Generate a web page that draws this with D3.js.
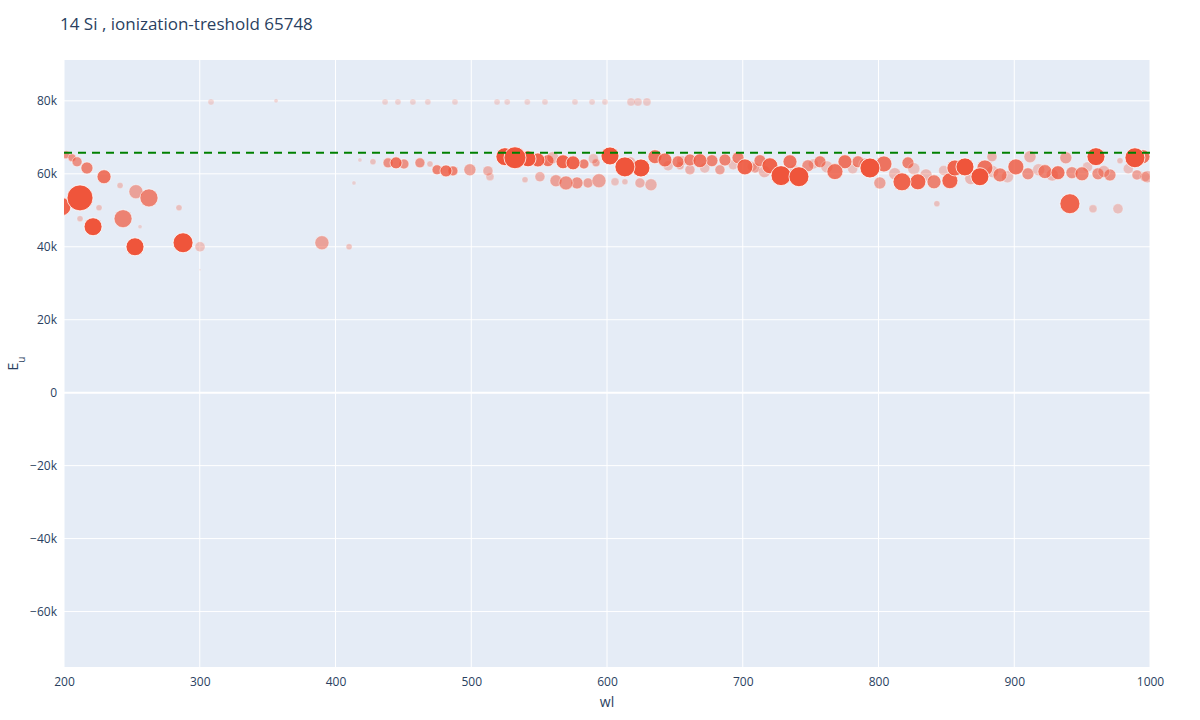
<!DOCTYPE html>
<html>
<head>
<meta charset="utf-8">
<script src="https://cdn.jsdelivr.net/npm/d3@7"></script>
<style>
  body { margin: 0; background: #fff; font-family: "Open Sans", Arial, sans-serif; }
</style>
</head>
<body>
<svg id="chart" width="1200" height="720"></svg>
<script>
// wavelength (nm), upper level energy (cm-1), marker size (px radius), relative strength (opacity)
const wl = [201.5,205.9,209.6,216.9,229.5,211.8,198.5,221.4,252.3,287.7,243.5,253,262.6,241.3,284.7,225.8,211.8,300.2,390,410,308.3,356.2,256,300.2,
  436.5,446,457,468,488,519,526.5,541.3,554.3,576.4,589,598.5,617.7,622.8,629.4,
  427.6,438.7,444.6,450.4,462.2,474.8,481.4,486.5,499,512.3,469.6,413.6,418,
  524.8,532.2,541.8,549.1,556.5,567.6,575,583,591.9,602.2,613.2,625,635.3,642.7,652.3,661.1,668.5,677.3,686.9,696.5,701.6,712.7,720,728.2,741.4,734.8,748,756.9,767.9,775.3,784.9,793.7,804,817.3,829,840.9,852.6,856.3,863.7,874.7,878.4,889.5,901.2,910.1,922.6,932.2,942.5,949.9,961.7,970.5,988.9,994.8,960.2,941,958,976.4,990.4,996.3,911.6,883.6,843,801,821.7,938,977.9,
  550.6,562.4,569.8,577.9,586,594.1,605.9,624.3,632.4,513.8,539.6,613.2,661.1,683.2,709,653.8,
  645,672,693,707,716,738,752,762,781,790,812,826,835,848,868,884,895,918,928,954,966,984,998,560,590,617,655];
const eu = [65200,64400,63300,61600,59200,53400,51000,45500,40000,41100,47700,55100,53400,56800,50700,50700,47700,40000,41100,40000,79700,80000,45500,33700,
  79700,79700,79700,79700,79700,79700,79700,79700,79700,79700,79700,79700,79700,79700,79700,
  63300,63000,63000,62700,63000,61100,60800,60800,61100,60800,62700,57500,63800,
  64700,64400,64100,63800,63600,63300,63000,62700,63000,64900,61900,61600,64700,63800,63300,63800,63600,63600,63800,64400,61900,63600,62200,59500,59200,63300,62200,63300,60600,63300,63300,61600,62700,57800,57800,57800,58100,61600,61900,59200,61600,59700,61900,60000,60600,60300,60300,60000,60000,59700,64400,64700,64700,51800,50400,50400,59700,59200,64700,64700,51800,57500,63000,64400,63600,
  59200,58100,57500,57500,57500,58100,57800,57500,57000,59200,58400,57800,61100,61100,61600,62200,
  62200,61600,62500,62000,60600,61100,62700,61900,61400,62700,60000,61400,59700,60900,58700,60600,59200,61100,59700,61900,60600,61400,59200,64400,64100,63000,63600];
const msize = [4,4,5,6,7,13,9,9,9,10,9,7,9,3,3,3,3,5,7,3,3,2,2,1,
  3,3,3,3,3,3,3,3,3,3,3,3,4,4,4,
  3,5,6,5,5,5,6,5,6,5,3,2,2,
  9,11,8,7,6,7,7,5,4,9,10,9,7,7,6,6,7,6,6,6,8,6,8,10,10,7,6,6,8,7,6,10,8,9,8,7,8,8,9,9,8,7,8,6,7,7,6,7,6,6,10,7,9,10,4,5,5,5,6,5,3,6,6,6,3,
  5,6,7,6,5,7,4,5,6,4,3,3,5,5,5,4,
  5,5,5,5,6,5,5,6,5,6,6,6,6,5,6,6,6,6,6,5,6,5,6,6,5,6,5];
const alpha = [.6,.6,.6,.7,.8,1,.9,1,1,1,.7,.5,.7,.3,.3,.3,.3,.3,.5,.3,.2,.2,.2,.1,
  .2,.2,.2,.2,.2,.2,.2,.2,.2,.2,.2,.2,.25,.25,.25,
  .3,.6,.8,.6,.6,.7,.8,.7,.5,.4,.3,.2,.2,
  1,1,1,.9,.8,.9,.9,.7,.5,1,1,1,.8,.8,.7,.7,.8,.7,.7,.7,.9,.7,.9,1,1,.8,.6,.7,.8,.8,.7,1,.8,.9,.9,.7,.9,.9,1,1,.8,.7,.8,.6,.7,.8,.6,.7,.6,.6,1,.8,1,.9,.3,.3,.5,.4,.4,.4,.3,.5,.7,.5,.3,
  .4,.5,.6,.6,.5,.5,.3,.4,.4,.3,.3,.3,.4,.5,.5,.4,
  .3,.3,.3,.3,.35,.3,.3,.3,.3,.35,.35,.3,.35,.3,.35,.3,.3,.3,.35,.3,.35,.3,.35,.35,.3,.35,.3];
const ionization = 65748;
const xTicks = [200,300,400,500,600,700,800,900,1000];
const yTicks = [-60000,-40000,-20000,0,20000,40000,60000,80000];

const svg = d3.select("#chart");
const m = { l: 64, r: 50, t: 60, b: 53 };
const W = 1200, H = 720;
const x = d3.scaleLinear().domain([200, 1000]).range([m.l, W - m.r]);
const y = d3.scaleLinear().domain([-75200, 91200]).range([H - m.b, m.t]);

svg.append("rect").attr("x", m.l).attr("y", m.t)
  .attr("width", W - m.r - m.l).attr("height", H - m.b - m.t).attr("fill", "#e5ecf6");

svg.append("defs").append("clipPath").attr("id", "clip")
  .append("rect").attr("x", m.l).attr("y", m.t)
  .attr("width", W - m.r - m.l).attr("height", H - m.b - m.t);

const grid = svg.append("g").attr("stroke", "#fff");
grid.selectAll(".gx").data(xTicks).join("line")
  .attr("x1", d => x(d)).attr("x2", d => x(d)).attr("y1", m.t).attr("y2", H - m.b);
grid.selectAll(".gy").data(yTicks).join("line")
  .attr("y1", d => y(d)).attr("y2", d => y(d)).attr("x1", m.l).attr("x2", W - m.r)
  .attr("stroke-width", d => d === 0 ? 2 : 1);

const fmt = d => d === 0 ? "0" : (d < 0 ? "\u2212" : "") + Math.abs(d / 1000) + "k";

const xa = svg.append("g").attr("transform", `translate(0,${H - m.b})`)
  .call(d3.axisBottom(x).tickValues(xTicks).tickFormat(d3.format("d")).tickSize(0).tickPadding(10));
const ya = svg.append("g").attr("transform", `translate(${m.l},0)`)
  .call(d3.axisLeft(y).tickValues(yTicks).tickFormat(fmt).tickSize(0).tickPadding(7));
[xa, ya].forEach(a => {
  a.select(".domain").remove();
  a.selectAll("text").attr("fill", "#2a3f5f").style("font-size", "12px")
    .style("font-family", "\"Open Sans\", Arial, sans-serif");
});

const pts = d3.range(wl.length).sort((a, b) => msize[a] - msize[b]);
svg.append("g").attr("clip-path", "url(#clip)")
  .selectAll("circle").data(pts).join("circle")
  .attr("cx", i => x(wl[i])).attr("cy", i => y(eu[i])).attr("r", i => msize[i])
  .attr("fill", "rgb(239,85,59)").attr("fill-opacity", i => alpha[i])
  .attr("stroke", "#fff").attr("stroke-opacity", i => alpha[i] * 0.8).attr("stroke-width", 1);

svg.append("line").attr("x1", m.l).attr("x2", W - m.r)
  .attr("y1", y(ionization)).attr("y2", y(ionization))
  .attr("stroke", "green").attr("stroke-width", 2).attr("stroke-dasharray", "8,6");

svg.append("text").attr("x", 60).attr("y", 30).attr("fill", "#2a3f5f")
  .style("font-size", "17px").text("14 Si , ionization-treshold 65748");
svg.append("text").attr("x", (m.l + W - m.r) / 2).attr("y", 707).attr("text-anchor", "middle")
  .attr("fill", "#2a3f5f").style("font-size", "14px").text("wl");
const yl = svg.append("text").attr("transform", `translate(18,${(m.t + H - m.b) / 2}) rotate(-90)`)
  .attr("text-anchor", "middle").attr("fill", "#2a3f5f").style("font-size", "14px");
yl.append("tspan").text("E");
yl.append("tspan").attr("baseline-shift", "sub").style("font-size", "10px").text("u");
</script>
</body>
</html>
